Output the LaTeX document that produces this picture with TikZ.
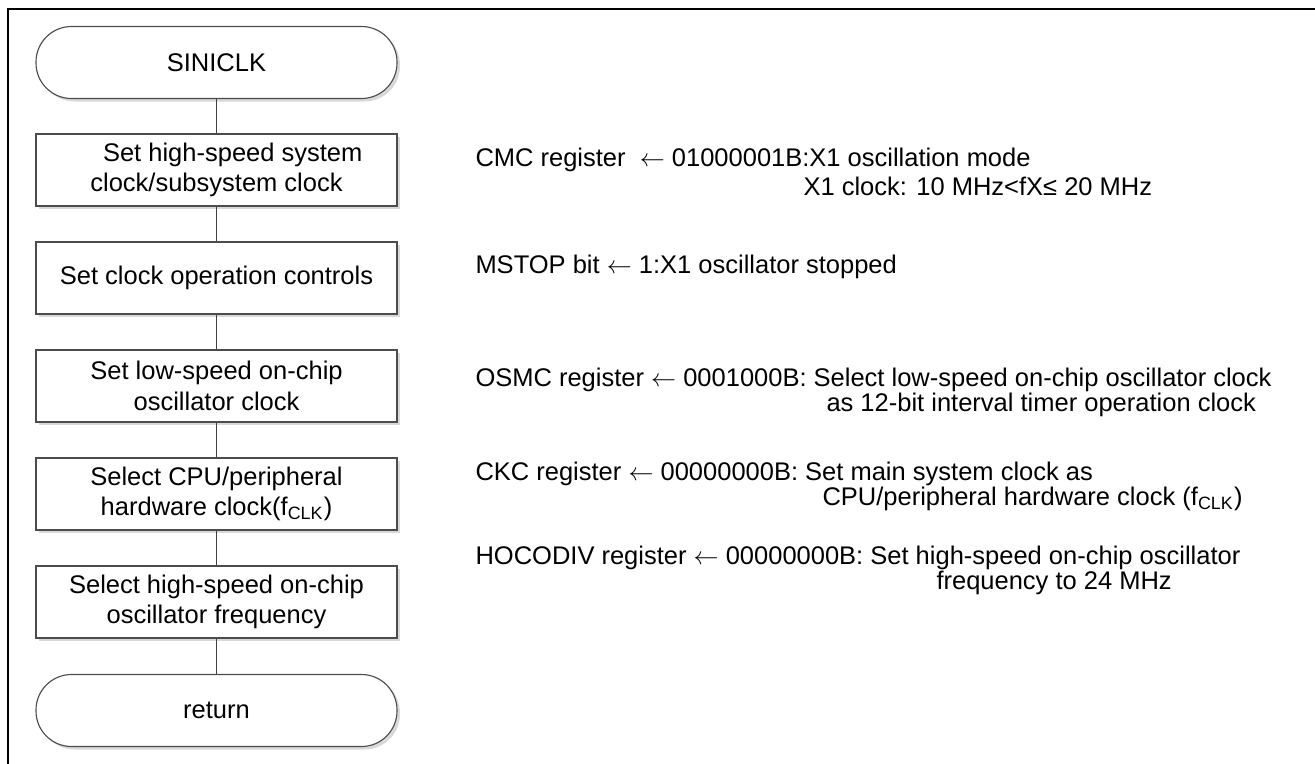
\documentclass[tikz,border=0pt]{standalone}
\usepackage{fontspec}
\setmainfont{Liberation Sans}
\usetikzlibrary{shadows}
\newcommand{\regArrow}{\ensuremath{\leftarrow}}
\tikzstyle{procStep}=[shape = rectangle, minimum width = 144.4pt, minimum height = 28.8pt, inner sep = 2pt, align = center, draw = black!70, line width = 0.45pt, fill = white, drop shadow = {shadow xshift = 1.2pt, shadow yshift = -1.2pt, fill = black!15, opacity = 1}]
\tikzstyle{termStep}=[procStep, rounded corners = 14.2pt]

\begin{document}
\begin{tikzpicture}[x = 0.4pt, y = -0.4pt, every node/.style = {font = \fontsize{10.2pt}{12.2pt}\selectfont}]
\tikzstyle{flowLine}=[draw = black!75, line width = 0.7pt]
\tikzstyle{noteText}=[anchor = west, inner sep = 0pt]
\useasboundingbox (0,0) rectangle (1315,763);
\draw[line width = 1pt] (8,770) -- (8,9) -- (1320,9);
\node[termStep] (start) at (216.5,62.5) {SINICLK};
\node[procStep] (hsClk) at (216.5,170) {\hspace*{13pt}Set high-speed system\\clock/subsystem clock};
\node[procStep] (opCtl) at (216.5,278) {Set clock operation controls};
\node[procStep] (lsClk) at (216.5,386) {Set low-speed on-chip\\oscillator clock};
\node[procStep] (cpuClk) at (216.5,494) {Select CPU/peripheral\\hardware clock(f\textsubscript{CLK})};
\node[procStep] (hocoFrq) at (216.5,602) {Select high-speed on-chip\\oscillator frequency};
\node[termStep] (ret) at (216.5,710.5) {return};
\draw[flowLine] (start) -- (hsClk);
\draw[flowLine] (hsClk) -- (opCtl);
\draw[flowLine] (opCtl) -- (lsClk);
\draw[flowLine] (lsClk) -- (cpuClk);
\draw[flowLine] (cpuClk) -- (hocoFrq);
\draw[flowLine] (hocoFrq) -- (ret);
\node[noteText] (cmcNote) at (475,160) {CMC register \ \regArrow\ 01000001B:X1 oscillation mode};
\node[noteText] (cmcNoteB) at (803,186) {X1 clock: 10 MHz<fX≤ 20 MHz};
\node[noteText] (mstopNote) at (475,267) {MSTOP bit \regArrow\ 1:X1 oscillator stopped};
\node[noteText] (osmcNote) at (475,380) {OSMC register \regArrow\ 0001000B: Select low-speed on-chip oscillator clock};
\node[noteText] (osmcNoteB) at (826,405) {as 12-bit interval timer operation clock};
\node[noteText] (ckcNote) at (475,474) {CKC register \regArrow\ 00000000B: Set main system clock as};
\node[noteText] (ckcNoteB) at (822,499) {CPU/peripheral hardware clock (f\textsubscript{CLK})};
\node[noteText] (hocoNote) at (475,558) {HOCODIV register \regArrow\ 00000000B: Set high-speed on-chip oscillator};
\node[noteText] (hocoNoteB) at (936,583) {frequency to 24 MHz};
\end{tikzpicture}
\end{document}
